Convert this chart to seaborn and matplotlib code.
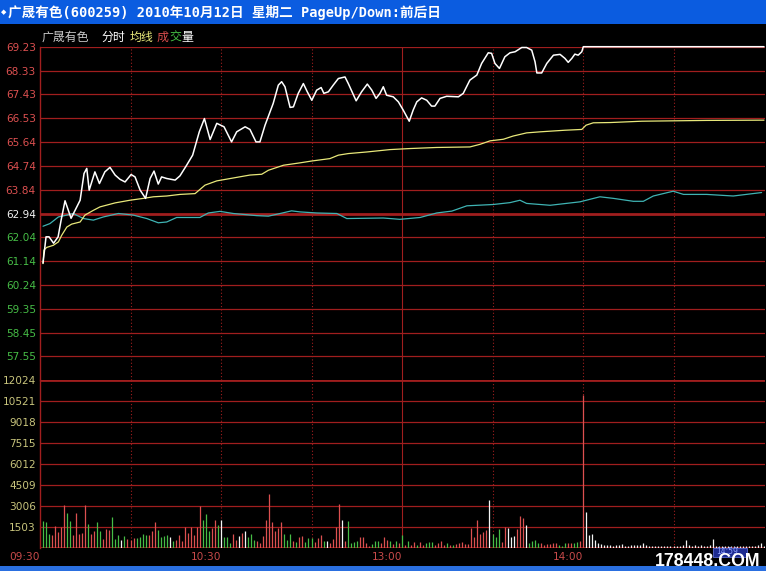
import matplotlib
matplotlib.use("Agg")
import matplotlib.pyplot as plt
import seaborn as sns
from matplotlib.patches import Rectangle

W, H = 766, 571

# white line: last price (minute from 09:30, price)
price_min = [1, 2, 3, 4.5, 6, 7, 8.3, 10.3, 12.2, 13.3, 14.6, 15.5, 16.3, 18.2, 19.7, 21.5,
             23.2, 24.9, 26.5, 28.2, 30.2, 31.5, 33.2, 35, 36.5, 37.8, 39.2, 40.3, 42, 44.8,
             46.4, 48.6, 50.6, 52.8, 54.5, 56.4, 58.6, 61, 63.5, 65.2, 68, 69.6, 71.6, 72.9,
             74.6, 77.3, 79, 80.1, 81.2, 82.9, 84, 85.6, 87.3, 88.6, 90.1, 91.7, 93.2, 94.1,
             95.6, 97.2, 98.9, 101.1, 102.2, 104.8, 106.6, 108.5, 110, 111.4, 112.7, 113.8,
             114.9, 117.1, 118.8, 120.4, 122.4, 123.7, 124.9, 126.5, 128.2, 129.8, 130.9,
             132.6, 134.8, 138.7, 140.3, 142.5, 144.8, 146.4, 148.6, 149.7, 150.8, 152.3,
             154.1, 155.8, 157.5, 159.7, 161.3, 163, 164.1, 164.7, 166.3, 168, 170.2, 172.4,
             174, 175.1, 176.3, 177.3, 178.4, 179.6, 180.1, 240]
price_val = [61.07, 62.06, 62.06, 61.82, 62.06, 62.69, 63.42, 62.76, 63.19, 63.44, 64.45, 64.64,
             63.82, 64.51, 64.07, 64.51, 64.68, 64.39, 64.23, 64.13, 64.41, 64.32, 63.82, 63.51,
             64.26, 64.54, 64.05, 64.32, 64.26, 64.20, 64.36, 64.76, 65.14, 66.02, 66.52, 65.73,
             66.34, 66.21, 65.64, 66.02, 66.21, 66.11, 65.64, 65.64, 66.27, 67.09, 67.78, 67.91,
             67.72, 66.94, 66.96, 67.47, 67.84, 67.53, 67.21, 67.59, 67.69, 67.47, 67.53, 67.78,
             68.03, 68.09, 67.84, 67.19, 67.53, 67.82, 67.59, 67.28, 67.47, 67.72, 67.40, 67.34,
             67.15, 66.84, 66.42, 66.84, 67.15, 67.30, 67.21, 66.99, 66.99, 67.28, 67.36, 67.34,
             67.47, 67.97, 68.16, 68.60, 69.00, 68.98, 68.60, 68.41, 68.85, 69.00, 69.04, 69.20,
             69.20, 69.10, 68.66, 68.24, 68.24, 68.60, 68.91, 68.94, 68.79, 68.64, 68.79, 68.95,
             68.91, 69.04, 69.23, 69.23]

# yellow line: average price
avg_min = [1, 1.3, 2.2, 4.4, 6.1, 7.2, 8.9, 10.5, 13.3, 14.9, 17.7, 19.9, 24.9, 29.8, 34.2,
           37.6, 42, 46.4, 51.4, 54.7, 58.6, 64.1, 69.6, 73.5, 75.7, 80.7, 86.2, 90.1, 96.1,
           98.9, 102.2, 108.3, 116, 122.7, 131.5, 142.5, 145.9, 149.2, 153.6, 156.8, 161.3,
           165.8, 174, 179.6, 181, 183.4, 189, 199.5, 221, 240]
avg_val = [61.05, 61.56, 61.66, 61.74, 61.87, 62.12, 62.43, 62.54, 62.62, 62.88, 63.06, 63.19,
           63.34, 63.44, 63.51, 63.57, 63.60, 63.66, 63.69, 64.01, 64.17, 64.28, 64.39, 64.42,
           64.57, 64.76, 64.85, 64.92, 65.01, 65.14, 65.20, 65.26, 65.35, 65.39, 65.43, 65.45,
           65.55, 65.68, 65.74, 65.86, 65.98, 66.02, 66.08, 66.11, 66.27, 66.36, 66.37, 66.42,
           66.45, 66.46]

# cyan line: index overlay
index_min = [1, 3.3, 6.1, 8.9, 11, 14.4, 17.7, 21, 26, 30.9, 35.4, 39.2, 42, 45.3, 53, 55.8,
             59.7, 64.1, 71.8, 75.7, 79.6, 83.4, 86.2, 91.7, 98.4, 101.7, 113.8, 119.3, 126,
             131.5, 136.5, 141.5, 150.3, 155.8, 159.1, 161.3, 169.1, 179, 185.6, 190.1, 196.7,
             200, 203.3, 209.9, 213.3, 221, 229.8, 239.2]
index_val = [62.46, 62.56, 62.81, 62.88, 62.94, 62.75, 62.69, 62.81, 62.94, 62.88, 62.75, 62.59,
             62.62, 62.79, 62.79, 62.96, 63.02, 62.94, 62.86, 62.84, 62.94, 63.04, 63.00, 62.96,
             62.94, 62.75, 62.77, 62.72, 62.79, 62.96, 63.03, 63.23, 63.28, 63.35, 63.44, 63.32,
             63.25, 63.38, 63.57, 63.51, 63.40, 63.40, 63.60, 63.78, 63.66, 63.66, 63.60, 63.73]

# per-minute volume, minutes 1..240
volume = [1935, 1890, 1030, 980, 1580, 1170, 1500, 3130, 2530, 1980,
          980, 2530, 1030, 1100, 3080, 1740, 1030, 1220, 1890, 1270,
          700, 1390, 1340, 2220, 690, 980, 620, 910, 670, 620,
          740, 740, 810, 1030, 980, 980, 1220, 1890, 1340, 790,
          860, 980, 790, 550, 620, 980, 500, 1500, 1100, 1500,
          930, 1500, 3010, 2030, 2460, 1270, 1480, 2030, 1670, 2030,
          835, 835, 405, 1025, 600, 885, 1075, 1240, 835, 1025,
          600, 550, 380, 910, 2060, 3900, 1890, 1270, 1460, 1890,
          1030, 620, 1030, 500, 450, 790, 860, 450, 740, 740,
          450, 740, 980, 550, 550, 380, 690, 1500, 3180, 2060,
          550, 1935, 380, 450, 500, 790, 790, 380, 140, 310,
          550, 550, 380, 790, 620, 550, 310, 500, 380, 960,
          260, 550, 260, 450, 260, 450, 260, 380, 450, 450,
          215, 380, 500, 260, 380, 260, 215, 310, 380, 450,
          310, 310, 1480, 835, 2030, 1025, 1145, 1310, 3460, 1030,
          835, 1385, 480, 1550, 1480, 835, 900, 1385, 2320, 2200,
          1670, 405, 525, 600, 360, 405, 240, 285, 310, 360,
          405, 240, 190, 405, 360, 405, 360, 480, 525, 10980,
          2580, 955, 1025, 600, 360, 285, 240, 240, 240, 190,
          240, 240, 285, 190, 190, 240, 240, 240, 240, 360,
          240, 190, 190, 170, 190, 170, 170, 190, 170, 170,
          190, 170, 240, 600, 240, 190, 240, 190, 240, 190,
          190, 240, 670, 190, 170, 170, 190, 170, 170, 190,
          170, 170, 190, 170, 170, 190, 170, 240, 360, 190]
# r = up, g = down, w = unchanged
vol_dir = ("gggrrrrrgg" "rrrrrgrrgg" "rrrgggwgrr" "rggggrrrgg" "ggwgrrrrrr" "rrrgggrrgw"
           "gggrrwrwgg" "grrrrrrrrr" "gggrgrrggg" "rrrgwrrrrw" "rggggrrrrg" "ggrrrgrgrg"
           "rgrrgrrggg" "rrrrgrgrrr" "rrrrrrrrwg" "ggrrwwwrrr" "wggggrrrrr" "rgggrrggrr"
           + "w" * 60)

price_ticks = [69.23, 68.33, 67.43, 66.53, 65.64, 64.74, 63.84, 62.94,
               62.04, 61.14, 60.24, 59.35, 58.45, 57.55]
prev_close = 62.94
vol_ticks = [1503, 3006, 4509, 6012, 7515, 9018, 10521, 12024]
time_ticks = [0, 60, 120, 180]
time_labels = ["09:30", "10:30", "13:00", "14:00"]

sns.set_style("dark", {"axes.facecolor": "black", "figure.facecolor": "black"})
plt.rcParams["font.family"] = ["DejaVu Sans", "Noto Sans CJK SC"]

GRID = "#a01e1e"
UP, DOWN, FLAT = "#dc5050", "#46bc46", "#f4f4f4"

fig = plt.figure(figsize=(W / 100, H / 100), dpi=100, facecolor="black")


def px_axes(l, t, r, b):
    return fig.add_axes([l / W, 1 - b / H, (r - l) / W, (b - t) / H])


ax_p = px_axes(40, 46.7, 765, 380.3)
ax_v = px_axes(40, 380.3, 765, 548.3)

for ax in (ax_p, ax_v):
    ax.set_facecolor("black")
    ax.set_xlim(0, 240.33)
    for s in ("top", "right", "bottom"):
        ax.spines[s].set_visible(False)
    ax.spines["left"].set_color(GRID)
    ax.spines["left"].set_linewidth(1)
    ax.grid(False)
    for m in (30, 60, 90, 150, 180, 210):
        ax.axvline(m, color=GRID, lw=0.8, ls=(0, (1, 2)), zorder=1)
    ax.axvline(120, color=GRID, lw=0.8, zorder=1)

# price panel
ax_p.set_ylim(56.65, 69.23)
for v in price_ticks:
    ax_p.axhline(v, color=GRID, lw=2.0 if v == prev_close else 0.9, zorder=1)
ax_p.set_yticks(price_ticks)
ax_p.set_yticklabels([f"{v:.2f}" for v in price_ticks])
ax_p.set_xticks([])
ax_p.tick_params(axis="y", length=0, pad=3, labelsize=7.6)
for lbl, v in zip(ax_p.get_yticklabels(), price_ticks):
    lbl.set_color(UP if v > prev_close else (FLAT if v == prev_close else DOWN))

sns.lineplot(x=index_min, y=index_val, ax=ax_p, color="#3fb3b3", lw=0.9,
             estimator=None, sort=False, zorder=3)
sns.lineplot(x=avg_min, y=avg_val, ax=ax_p, color="#e8e87a", lw=0.9,
             estimator=None, sort=False, zorder=4)
sns.lineplot(x=price_min, y=price_val, ax=ax_p, color="white", lw=1.1,
             estimator=None, sort=False, zorder=5)
ax_p.lines[-1].set_clip_on(False)
ax_p.set_xlabel("")
ax_p.set_ylabel("")

# volume panel
ax_v.set_ylim(0, 12024)
for v in vol_ticks:
    ax_v.axhline(v, color=GRID, lw=2.0 if v == 12024 else 0.9, zorder=1)
ax_v.axhline(0, color=GRID, lw=1.2, zorder=1)
minutes = list(range(1, 241))
cmap = {"r": UP, "g": DOWN, "w": FLAT}
ax_v.vlines(minutes, 0, volume, colors=[cmap[c] for c in vol_dir], lw=0.9, zorder=3)
ax_v.set_yticks(vol_ticks)
ax_v.set_yticklabels([str(v) for v in vol_ticks])
ax_v.tick_params(axis="y", length=0, pad=3, labelsize=7.6, labelcolor="#c8c47c")
ax_v.set_xticks(time_ticks)
ax_v.set_xticklabels(time_labels)
ax_v.tick_params(axis="x", length=0, pad=3, labelsize=7.6, labelcolor="#c84a4a")
for lbl in ax_v.get_xticklabels():
    lbl.set_horizontalalignment("right")

# title bar and bottom strip
fig.patches.append(Rectangle((0, 1 - 24 / H), 1, 24 / H, transform=fig.transFigure,
                             facecolor="#0b5ce0", edgecolor="none", zorder=0))
fig.patches.append(Rectangle((0, 0), 1, 5 / H, transform=fig.transFigure,
                             facecolor="#2a6fe0", edgecolor="none", zorder=0))
fig.text(0.5 / W, 1 - 12 / H, "◆", color="white", fontsize=5, va="center")
fig.text(8 / W, 1 - 12.5 / H, "广晟有色(600259) 2010年10月12日 星期二 PageUp/Down:前后日",
         color="white", fontsize=9.8, fontweight="bold", va="center",
         family=["DejaVu Sans Mono", "Noto Sans CJK SC"])

# legend line under the title
for x, txt, col in [(42, "广晟有色", "#c8c8c8"), (102, "分时", "white"), (130, "均线", "#e8e87a"),
                    (157, "成", "#d84c4c"), (169, "交", "#44c044"), (181, "量", "white")]:
    fig.text(x / W, 1 - 37 / H, txt, color=col, fontsize=8.6, va="center",
             family=["Noto Sans CJK SC", "DejaVu Sans"])

# cursor time box (partly hidden) and watermark
fig.patches.append(Rectangle((713 / W, 1 - 557 / H), 34 / W, 9 / H, transform=fig.transFigure,
                             facecolor="#1c2a90", edgecolor="#5a6ad0", lw=0.6, zorder=5))
fig.text(716 / W, 1 - 551.5 / H, "14:59", color="#8fa0ff", fontsize=5.5, va="center", zorder=6)
fig.text(655 / W, 1 - 561 / H, "178448.COM", color="white", fontsize=12.8, fontweight="bold",
         va="center", family="Liberation Sans", zorder=7)

fig.savefig("out.png", dpi=100, facecolor="black")
